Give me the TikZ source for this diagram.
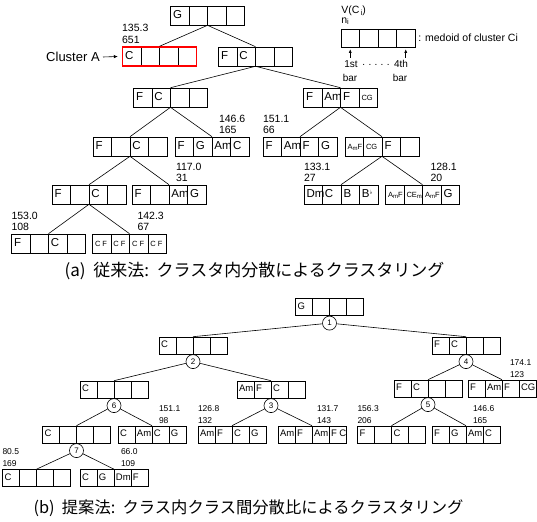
\documentclass[tikz,border=0pt]{standalone}
\usepackage{fontspec}
\setmainfont{Liberation Sans}
\newfontfamily\jpfont{Noto Sans CJK JP}
\newfontfamily\djfont{DejaVu Sans}
\usetikzlibrary{calc,arrows.meta}
\newcommand\QA[4]{\vphantom{Fg}\makebox[18.5pt][l]{\hspace{2.5pt}#1}\makebox[18.5pt][l]{\hspace{2.5pt}#2}\makebox[18.5pt][l]{\hspace{2.5pt}#3}\makebox[18.5pt][l]{\hspace{2.5pt}#4}}
\newcommand\QB[4]{\vphantom{Fg}\makebox[17pt][l]{\hspace{2pt}#1}\makebox[17pt][l]{\hspace{2pt}#2}\makebox[17pt][l]{\hspace{2pt}#3}\makebox[17pt][l]{\hspace{2pt}#4}}
\newcommand\sm[1]{{\fontsize{7.5}{8}\selectfont #1}}
\newcommand\AmF{{\fontsize{7.5}{8}\selectfont A\raisebox{-1.5pt}{\fontsize{6}{6}\selectfont m}F}}
\newcommand\CEm{{\fontsize{7.5}{8}\selectfont CE\raisebox{-1.5pt}{\fontsize{6}{6}\selectfont m}}}
\newcommand\Bflat{B\raisebox{3pt}{\djfont\fontsize{6}{6}\selectfont ♭}}
\begin{document}
\begin{tikzpicture}[x=1pt,y=-1pt,line width=0.6pt,
  qa/.style={draw, inner sep=0pt, minimum height=19pt, font=\fontsize{11.5}{12}\selectfont,
    path picture={\foreach \k in {1,2,3}{\draw[black, line width=0.6pt] ([xshift=\k*18.5pt]path picture bounding box.south west) -- ([xshift=\k*18.5pt]path picture bounding box.north west);}}},
  qb/.style={draw, inner sep=0pt, minimum height=17pt, font=\fontsize{9.5}{11}\selectfont,
    path picture={\foreach \k in {1,2,3}{\draw[black, line width=0.6pt] ([xshift=\k*17pt]path picture bounding box.south west) -- ([xshift=\k*17pt]path picture bounding box.north west);}}},
  laba/.style={anchor=south west, align=left, inner sep=0pt, font=\fontsize{10.5}{11.5}\selectfont},
  labb/.style={anchor=south west, align=left, inner sep=0pt, font=\fontsize{8.5}{12}\selectfont},
  circ/.style={circle, draw, minimum size=14pt, inner sep=0pt, anchor=north, font=\fontsize{8}{8}\selectfont},
  captxt/.style={inner sep=0pt, font=\jpfont\fontsize{16.3}{18}\selectfont}]
\useasboundingbox (0,0) rectangle (537,521);

% ---------- tree (a) ----------
\node[qa] (a0) at (207.5,15.5) {\QA{G}{}{}{}};
\node[qa, draw=red, line width=1.4pt] (aA) at (159.5,56.5) {\QA{C}{}{}{}};
\node[qa] (a1) at (255.5,56.5) {\QA{F}{C}{}{}};
\node[qa] (a2) at (170.5,97.5) {\QA{F}{C}{}{}};
\node[qa] (a3) at (340.5,97.5) {\QA{F}{Am}{F}{\sm{CG}}};
\node[qa] (a4) at (130,146.5) {\QA{F}{}{C}{}};
\node[qa] (a5) at (212,146.5) {\QA{F}{G}{Am}{C}};
\node[qa] (a6) at (300,146.5) {\QA{F}{Am}{F}{G}};
\node[qa] (a7) at (382,146.5) {\QA{\AmF}{\sm{CG}}{F}{}};
\node[qa] (a8) at (89,194.5) {\QA{F}{}{C}{}};
\node[qa] (a9) at (169,194.5) {\QA{F}{}{Am}{G}};
\node[qa] (a10) at (341,194.5) {\QA{Dm}{C}{B}{\Bflat}};
\node[qa] (a11) at (422.5,194.5) {\QA{\AmF}{\CEm}{\AmF}{G}};
\node[qa] (a12) at (48.5,243.5) {\QA{F}{}{C}{}};
\node[qa] (a13) at (129.5,243.5) {\QA{\sm{C F}}{\sm{C F}}{\sm{C F}}{\sm{C F}}};

\foreach \p/\c in {a0/aA,a0/a1,a1/a2,a1/a3,a2/a4,a2/a5,a3/a6,a3/a7,a4/a8,a4/a9,a7/a10,a7/a11,a8/a12,a8/a13}
  \draw (\p.south) -- (\c.north);

\node[laba] (lA) at ($(aA.north west)+(0,-2.5)$) {135.3\\651};
\node[laba] (l5) at ($(a5.north west)+(44,-2.5)$) {146.6\\165};
\node[laba] (l6) at ($(a6.north west)+(0,-2.5)$) {151.1\\66};
\node[laba] (l9) at ($(a9.north west)+(44,-2.5)$) {117.0\\31};
\node[laba] (l10) at ($(a10.north west)+(0,-2.5)$) {133.1\\27};
\node[laba] (l11) at ($(a11.north west)+(45,-2.5)$) {128.1\\20};
\node[laba] (l12) at ($(a12.north west)+(0,-2.5)$) {153.0\\108};
\node[laba] (l13) at ($(a13.north west)+(45,-2.5)$) {142.3\\67};

\node[anchor=east, inner sep=0pt, font=\fontsize{13}{14}\selectfont] (cla) at (100,57) {Cluster A};
\draw[-{Latex[length=4pt,width=3.5pt]}] ([xshift=3pt]cla.east) -- ([xshift=-4pt]aA.west);

% legend
\node[anchor=west, inner sep=0pt, font=\fontsize{10.5}{12}\selectfont] (vci) at (341,11) {V(C\raisebox{-1.5pt}{\fontsize{7.5}{8}\selectfont\,i})};
\node[anchor=west, inner sep=0pt, font=\fontsize{10.5}{12}\selectfont] (ni) at (341,21) {n\raisebox{-1.5pt}{\fontsize{7.5}{8}\selectfont i}};
\node[qa, minimum height=18pt] (leg) at (378,38) {\QA{}{}{}{}};
\node[anchor=west, inner sep=0pt, font=\fontsize{10.5}{12}\selectfont] (med) at (418,38) {: medoid of cluster Ci};
\coordinate (t1) at (350.25,58);
\coordinate (t4) at (405.75,58);
\draw[-{Latex[length=3.5pt,width=3pt]}] (t1) -- ([yshift=-2pt]t1 |- leg.south);
\draw[-{Latex[length=3.5pt,width=3pt]}] (t4) -- ([yshift=-2pt]t4 |- leg.south);
\node[inner sep=0pt, font=\fontsize{10}{11}\selectfont] (st) at (351,64) {1st};
\node[inner sep=0pt, font=\fontsize{10}{11}\selectfont] (fo) at (401,64) {4th};
\node[inner sep=0pt, font=\fontsize{10}{11}\selectfont] (b1t) at (350,78) {bar};
\node[inner sep=0pt, font=\fontsize{10}{11}\selectfont] (b4t) at (400,78) {bar};
\node[inner sep=0pt, font=\fontsize{10}{11}\selectfont] (dots) at (376,65) {.\,\,.\,\,.\,\,.\,\,.};

\node[captxt, font=\jpfont\fontsize{17}{18}\selectfont] (capa) at (254.5,271) {(a)\ \ 従来法:\ \ クラスタ内分散によるクラスタリング};

% ---------- tree (b) ----------
\node[qb] (b0) at (329.5,307) {\QB{G}{}{}{}};
\node[circ] (c1) at (b0.south) {1};
\node[qb] (b1) at (193,345.5) {\QB{C}{}{}{}};
\node[circ] (c2) at (b1.south) {2};
\node[qb] (b2) at (466,345.5) {\QB{F}{C}{}{}};
\node[circ] (c4) at (b2.south) {4};
\node[qb] (b3) at (114,389.5) {\QB{C}{}{}{}};
\node[circ] (c6) at (b3.south) {6};
\node[qb] (b4) at (271,389.5) {\QB{Am}{F}{C}{}};
\node[circ] (c3) at (b4.south) {3};
\node[qb] (b5) at (428,388.5) {\QB{F}{C}{}{}};
\node[circ] (c5) at (b5.south) {5};
\node[qb] (b6) at (502,388.5) {\QB{F}{Am}{F}{CG}};
\node[qb] (b7) at (76.5,434.5) {\QB{C}{}{}{}};
\node[circ] (c7) at (b7.south) {7};
\node[qb] (b8) at (152,434.5) {\QB{C}{Am}{C}{G}};
\node[qb] (b9) at (232,434.5) {\QB{Am}{F}{C}{G}};
\node[qb] (b10) at (312,434.5) {\QB{Am}{F}{Am}{F C}};
\node[qb] (b11) at (391.5,434.5) {\QB{F}{}{C}{}};
\node[qb] (b12) at (466,434.5) {\QB{F}{G}{Am}{C}};
\node[qb] (b13) at (36.5,478) {\QB{C}{}{}{}};
\node[qb] (b14) at (114,478) {\QB{C}{G}{Dm}{F}};

\foreach \p/\c in {c1/b1,c1/b2,c2/b3,c2/b4,c4/b5,c4/b6,c6/b7,c6/b8,c3/b9,c3/b10,c5/b11,c5/b12,c7/b13,c7/b14}
  \draw (\p) -- (\c.north);

\node[labb] (m6) at ($(b6.north west)+(42,-2)$) {174.1\\123};
\node[labb] (m8) at ($(b8.north west)+(41,-2)$) {151.1\\98};
\node[labb] (m9) at ($(b9.north west)+(0,-2)$) {126.8\\132};
\node[labb] (m10) at ($(b10.north west)+(39,-2)$) {131.7\\143};
\node[labb] (m11) at ($(b11.north west)+(0,-2)$) {156.3\\206};
\node[labb] (m12) at ($(b12.north west)+(41,-2)$) {146.6\\165};
\node[labb] (m13) at ($(b13.north west)+(0,-2)$) {80.5\\169};
\node[labb] (m14) at ($(b14.north west)+(41,-2)$) {66.0\\109};

\node[captxt] (capb) at (248.5,508.5) {(b)\ \ 提案法:\ \ クラス内クラス間分散比によるクラスタリング};
\end{tikzpicture}
\end{document}
